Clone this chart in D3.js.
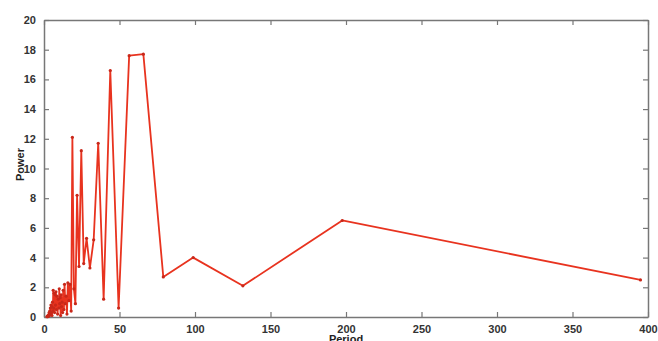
<!DOCTYPE html>
<html lang="en">
<meta charset="utf-8">
<style>
    html, body {
        margin: 0;
        padding: 0;
        background: #fff;
    }
    #svg {
        display: block;
    }
    .tick text {
        font-family: "Liberation Sans", Arial, sans-serif;
        font-size: 11px;
        font-weight: bold;
        fill: #333;
    }
    .axis-label {
        font-family: "Liberation Sans", Arial, sans-serif;
        font-size: 11px;
        font-weight: bold;
        fill: #222;
    }
</style>
<body>
<svg id="svg" width="658" height="341"></svg>
<script src="https://cdn.jsdelivr.net/npm/d3@7"></script>
<script>
    // periodogram: period (x) and power (y)
    var periods = [2.0, 2.2, 2.4, 2.6, 2.8, 3.0, 3.2, 3.4, 3.6, 3.8, 4.0, 4.2, 4.4, 4.6, 4.9,
        5.1, 5.3, 5.6, 5.9, 6.1, 6.4, 6.7, 7.0, 7.3, 7.6, 7.9, 8.2, 8.6, 9.0, 9.4, 9.9,
        10.1, 10.4, 10.7, 11.0, 11.3, 11.6, 12.0, 12.3, 12.7, 13.2, 13.6, 14.1, 14.6,
        15.2, 15.8, 16.5, 17.2, 18.0, 18.8, 19.8, 20.8, 21.9, 23.2, 24.7, 26.3, 28.2,
        30.4, 32.9, 35.9, 39.5, 43.9, 49.4, 56.4, 65.8, 79.0, 98.8, 131.7, 197.5, 395.0];
    var powers = [0.02, 0.05, 0.03, 0.1, 0.04, 0.15, 0.08, 0.3, 0.1, 0.4, 0.15, 0.6, 0.2, 0.8, 0.3,
        0.7, 0.1, 1.0, 0.4, 1.8, 0.6, 1.6, 0.3, 1.5, 0.8, 1.7, 0.5, 1.4, 0.2, 1.2, 0.6,
        1.9, 0.9, 1.3, 0.1, 1.5, 0.7, 1.0, 0.3, 1.8, 0.5, 2.2, 0.9, 1.4,
        0.2, 2.3, 1.1, 2.2, 0.4, 12.1, 1.9, 0.9, 8.2, 3.4, 11.2, 3.6, 5.3,
        3.3, 5.2, 11.7, 1.2, 16.6, 0.6, 17.6, 17.7, 2.7, 4.0, 2.1, 6.5, 2.5];

    var xTicks = [0, 50, 100, 150, 200, 250, 300, 350, 400];
    var yTicks = [0, 2, 4, 6, 8, 10, 12, 14, 16, 18, 20];

    var data = periods.map((p, i) => ({period: p, power: powers[i]}));

    var svg = d3.select("svg"),
        margin = {top: 20, right: 10, bottom: 24, left: 44},
        width = +svg.attr("width") - margin.left - margin.right,
        height = +svg.attr("height") - margin.top - margin.bottom,
        g = svg.append("g").attr("transform", "translate(" + margin.left + "," + margin.top + ")");

    var x = d3.scaleLinear().domain([0, 400]).range([0, width]);
    var y = d3.scaleLinear().domain([0, 20]).range([height, 0]);

    function styleAxis(sel) {
        sel.select(".domain").attr("stroke", "#777").attr("stroke-width", 1.5);
        sel.selectAll(".tick line").attr("stroke", "#777").attr("stroke-width", 1.2);
    }

    // bottom + left with labels, ticks pointing inwards
    g.append("g")
        .attr("transform", "translate(0," + height + ")")
        .call(d3.axisBottom(x).tickValues(xTicks).tickSizeInner(-5).tickSizeOuter(0).tickPadding(8))
        .call(styleAxis);

    g.append("g")
        .call(d3.axisLeft(y).tickValues(yTicks).tickSizeInner(-5).tickSizeOuter(0).tickPadding(8))
        .call(styleAxis);

    // mirrored top + right
    g.append("g")
        .call(d3.axisTop(x).tickValues(xTicks).tickSizeInner(-5).tickSizeOuter(0).tickFormat(""))
        .call(styleAxis);

    g.append("g")
        .attr("transform", "translate(" + width + ",0)")
        .call(d3.axisRight(y).tickValues(yTicks).tickSizeInner(-5).tickSizeOuter(0).tickFormat(""))
        .call(styleAxis);

    var line = d3.line()
        .x(d => x(d.period))
        .y(d => y(d.power));

    g.append("path")
        .datum(data)
        .attr("fill", "none")
        .attr("stroke", "#e8331f")
        .attr("stroke-width", 1.8)
        .attr("stroke-linejoin", "round")
        .attr("d", line);

    g.append("g")
        .selectAll("circle").data(data).enter().append("circle")
            .attr("cx", d => x(d.period))
            .attr("cy", d => y(d.power))
            .attr("r", 1.6)
            .attr("fill", "#c8281a");

    svg.append("text")
        .attr("class", "axis-label")
        .attr("text-anchor", "middle")
        .attr("transform", "translate(24," + (margin.top + height / 2 - 4) + ") rotate(-90)")
        .text("Power");

    svg.append("text")
        .attr("class", "axis-label")
        .attr("text-anchor", "middle")
        .attr("x", 346)
        .attr("y", 343)
        .text("Period");
</script>
</body>
</html>
